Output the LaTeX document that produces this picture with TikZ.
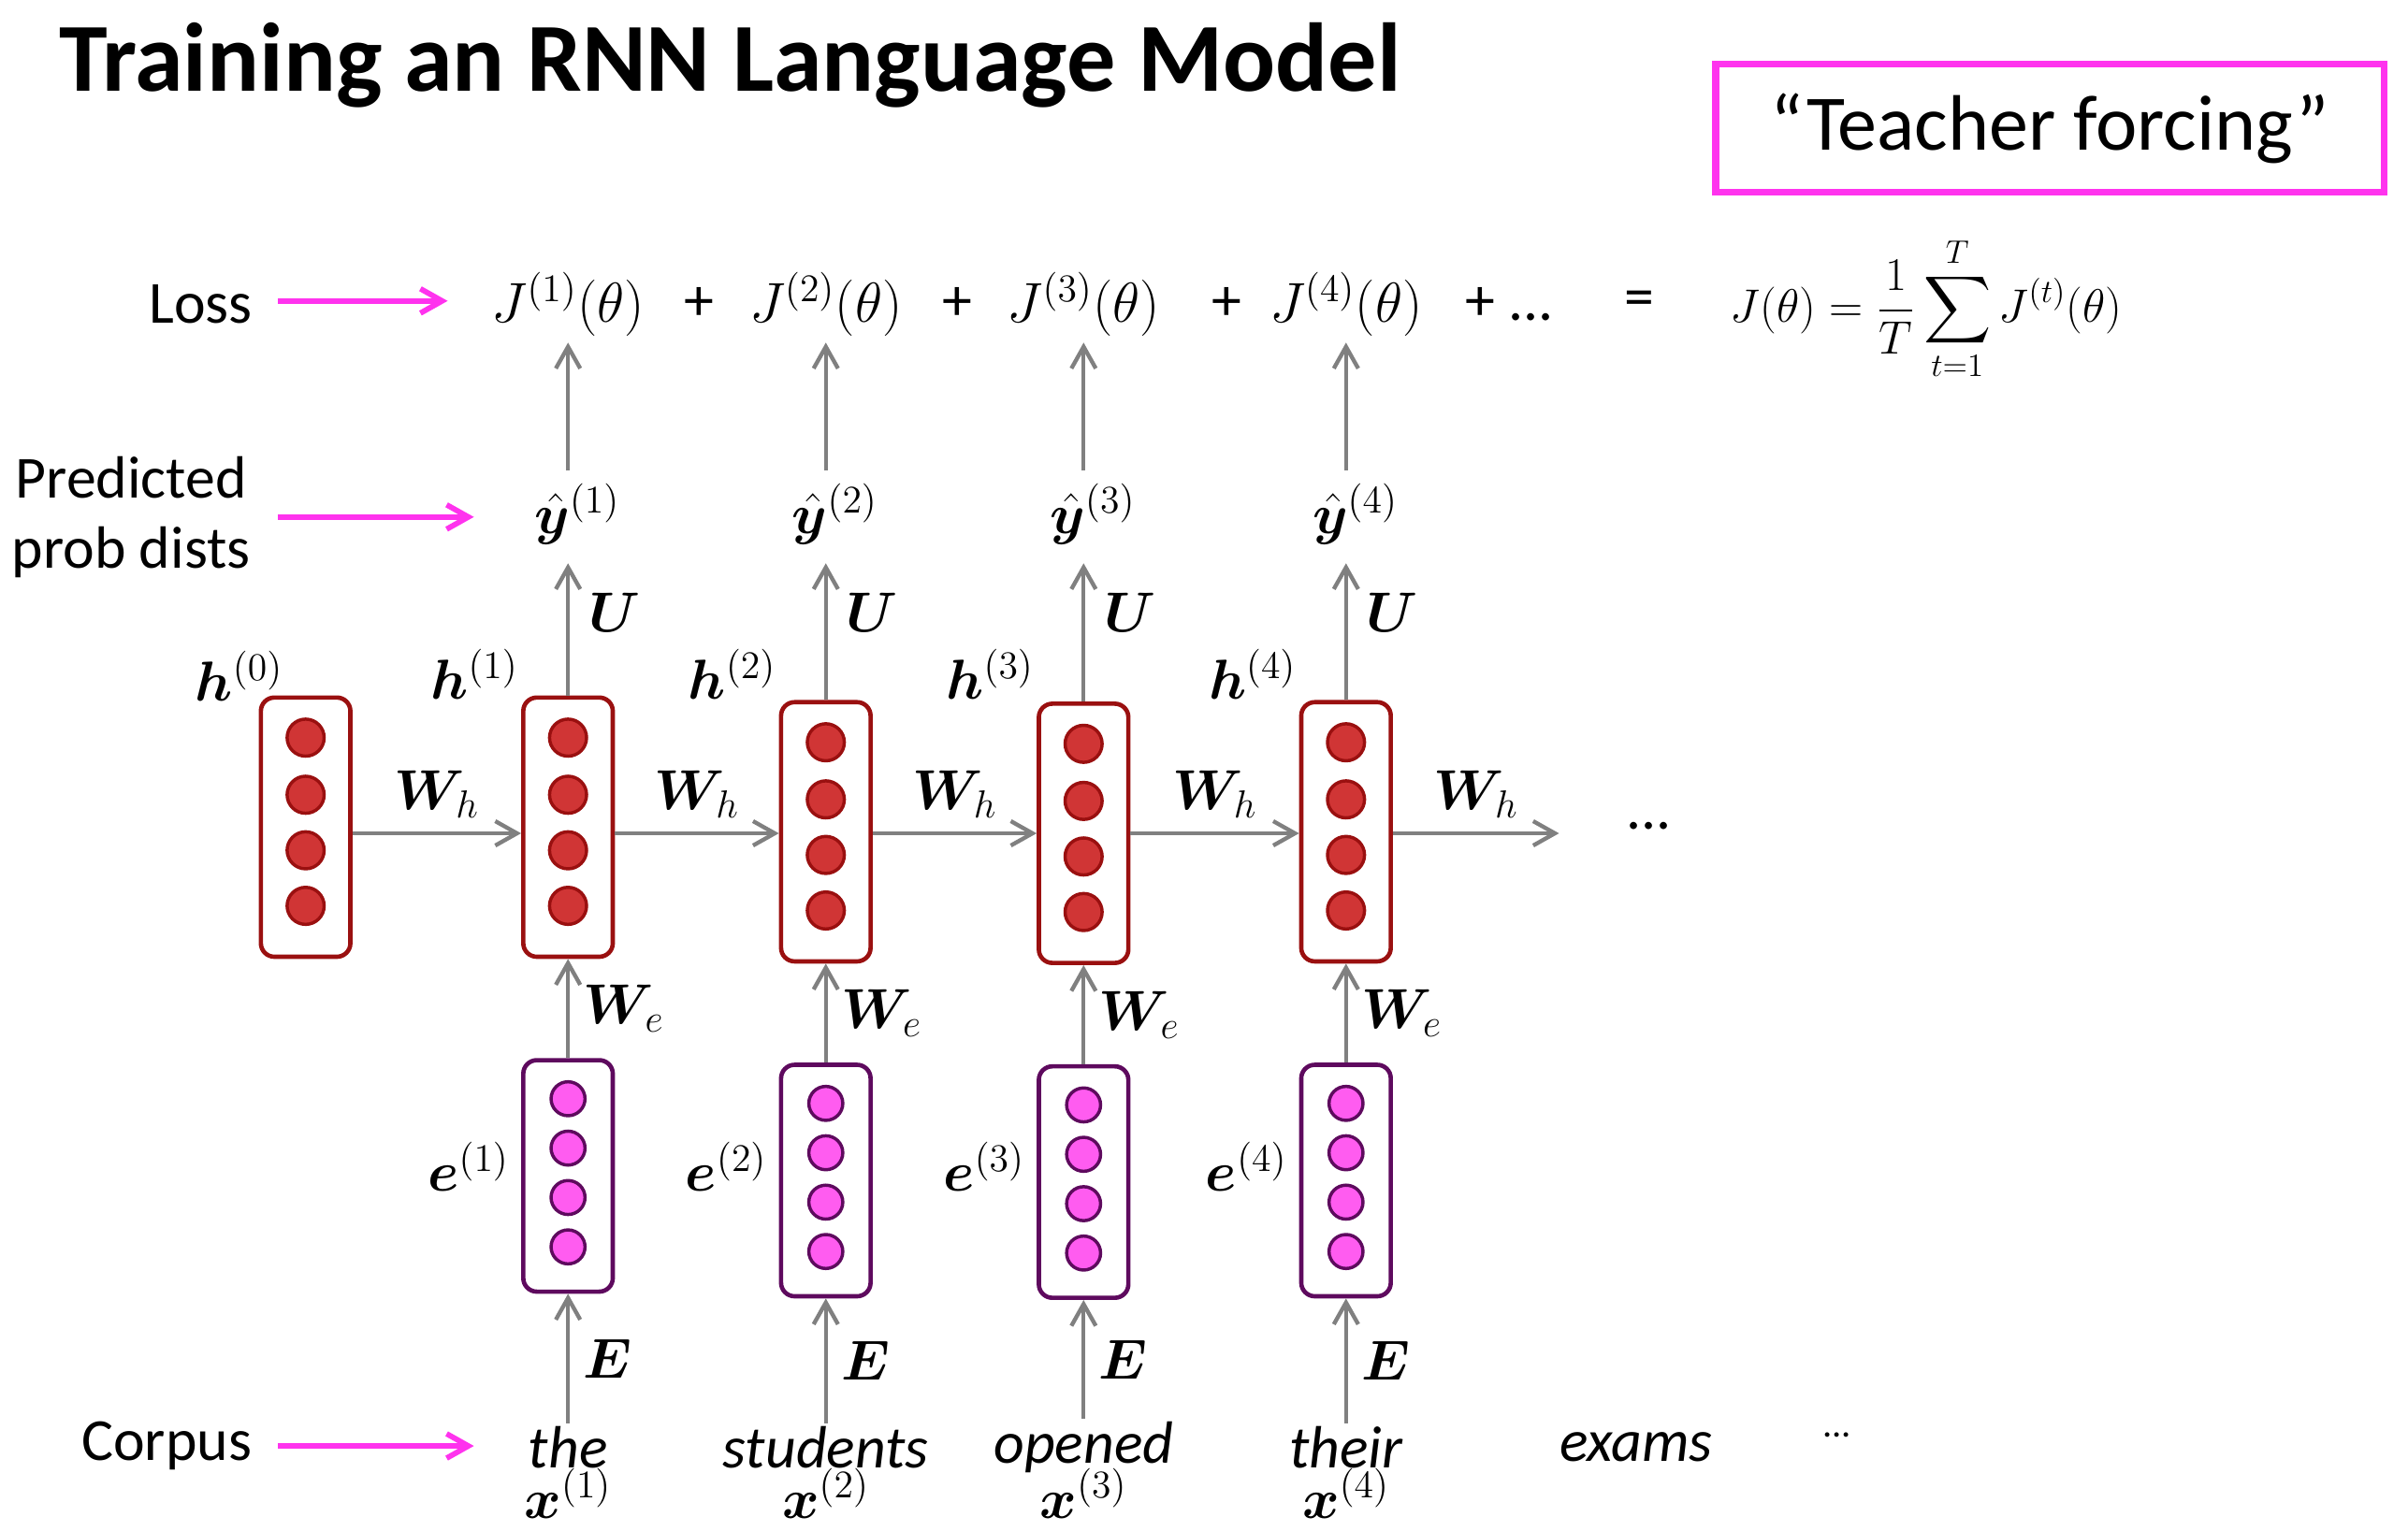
\documentclass[tikz,border=0pt]{standalone}
\usepackage{amsmath,bm}
\usepackage{fontspec}
\setmainfont{Carlito}
\usetikzlibrary{arrows.meta}
\definecolor{hfill}{HTML}{D03535}
\definecolor{hdraw}{HTML}{9A1010}
\definecolor{efill}{HTML}{FF5CF0}
\definecolor{edraw}{HTML}{5E0A5E}
\definecolor{mag}{HTML}{FF33EE}
\definecolor{arr}{HTML}{808080}
\begin{document}
\begin{tikzpicture}[x=0.02cm,y=-0.02cm,
  hbox/.style={draw=hdraw,line width=1.6pt,rounded corners=5pt,minimum width=58*0.02cm,minimum height=168*0.02cm,inner sep=0},
  ebox/.style={draw=edraw,line width=1.6pt,rounded corners=5pt,minimum width=58*0.02cm,minimum height=150*0.02cm,inner sep=0},
  hdot/.style={circle,draw=hdraw,fill=hfill,line width=1.2pt,minimum size=24*0.02cm,inner sep=0},
  edot/.style={circle,draw=edraw,fill=efill,line width=1.2pt,minimum size=22*0.02cm,inner sep=0},
  ga/.style={draw=arr,line width=1.5pt,-{Straight Barb[length=8pt,width=9pt]}},
  ma/.style={draw=mag,line width=2pt,-{Straight Barb[length=8pt,width=9pt]}},
  lab/.style={font=\fontsize{22}{26}\selectfont,inner sep=1pt},
  mth/.style={font=\fontsize{21}{25}\selectfont,inner sep=1pt},
  wd/.style={font=\fontsize{22}{26}\selectfont\itshape,inner sep=1pt}]
\useasboundingbox (0,0) rectangle (1560,992);
\node[anchor=west,font=\fontsize{36}{42}\selectfont\bfseries] (title) at (32,42) {Training an RNN Language Model};
\node[draw=mag,line width=2.5pt,minimum width=433*0.02cm,minimum height=83*0.02cm,font=\fontsize{29}{33}\selectfont] (tf) at (1328,83) {“Teacher forcing”};
% left labels
\node[lab] (loss) at (130,197) {Loss};
\node[lab,align=center] (pred) at (85,335) {Predicted\\prob dists};
\node[lab] (corp) at (108,937) {Corpus};
\coordinate (lossE) at (290,195); \coordinate (predE) at (307,335); \coordinate (corpE) at (307,937);
\draw[ma] (180,195) -- (lossE);
\draw[ma] (180,335) -- (predE);
\draw[ma] (180,937) -- (corpE);
% h0
\node[hbox] (h0) at (198,536) {};
\foreach \yy in {478,515,551,587} \node[hdot] at (198,\yy) {};
\node[mth] at (155,438) {$\bm{h}^{(0)}$};
\foreach \i/\x/\w/\yo in {1/368/the/0,2/535/students/3,3/702/opened/4,4/872/their/3}{
  \node[hbox] (h\i) at (\x,536+\yo) {};
  \foreach \yy in {478,515,551,587} \node[hdot] at (\x,\yy+\yo) {};
  \node[ebox] (e\i) at (\x,762+\yo) {};
  \foreach \yy in {712,744,776,808} \node[edot] at (\x,\yy+\yo) {};
  \node[wd] (w\i) at (\x,938) {\w};
  \node[mth] (x\i) at (\x,968) {$\bm{x}^{(\i)}$};
  \node[mth] (y\i) at (\x+6,333) {$\hat{\bm{y}}^{(\i)}$};
  \node[mth] (J\i) at (\x,197) {$J^{(\i)}(\theta)$};
  \node[mth,anchor=east] at (\x-30,437) {$\bm{h}^{(\i)}$};
  \node[mth,anchor=east] at (\x-36,756) {$\bm{e}^{(\i)}$};
  \coordinate (yb\i) at (\x,365);
  \coordinate (yt\i) at (\x,305);
  \coordinate (jb\i) at (\x,222);
  \draw[ga] (w\i.north) -- (e\i.south) node[midway,right=4pt,mth] {$\bm{E}$};
  \draw[ga] (e\i.north) -- (h\i.south) node[midway,right=4pt,mth] {$\bm{W}_e$};
  \draw[ga] (h\i.north) -- (yb\i);
  \node[mth] at (\x+30,397) {$\bm{U}$};
  \draw[ga] (yt\i) -- (jb\i);
}
\node[wd] (w5) at (1060,938) {exams};
\node[font=\fontsize{14}{16}\selectfont] at (1190,930) {...};
% horizontal
\coordinate (hend) at (1010,540);
\draw[ga] (h0.east |- 0,540) -- (h1.west |- 0,540) node[midway,above=4pt,mth] {$\bm{W}_h$};
\draw[ga] (h1.east |- 0,540) -- (h2.west |- 0,540) node[midway,above=4pt,mth] {$\bm{W}_h$};
\draw[ga] (h2.east |- 0,540) -- (h3.west |- 0,540) node[midway,above=4pt,mth] {$\bm{W}_h$};
\draw[ga] (h3.east |- 0,540) -- (h4.west |- 0,540) node[midway,above=4pt,mth] {$\bm{W}_h$};
\draw[ga] (h4.east |- 0,540) -- (hend) node[midway,above=4pt,mth] {$\bm{W}_h$};
\node[lab] at (1068,535) {...};
% loss row
\foreach \xx in {453,620,795} \node[lab] at (\xx,197) {+};
\node[lab] at (978,197) {+ ...};
\node[lab] at (1062,197) {=};
\node[font=\fontsize{17}{20}\selectfont] (Jt) at (1248,200) {$J(\theta)=\dfrac{1}{T}\displaystyle\sum_{t=1}^{T}J^{(t)}(\theta)$};
\end{tikzpicture}
\end{document}
